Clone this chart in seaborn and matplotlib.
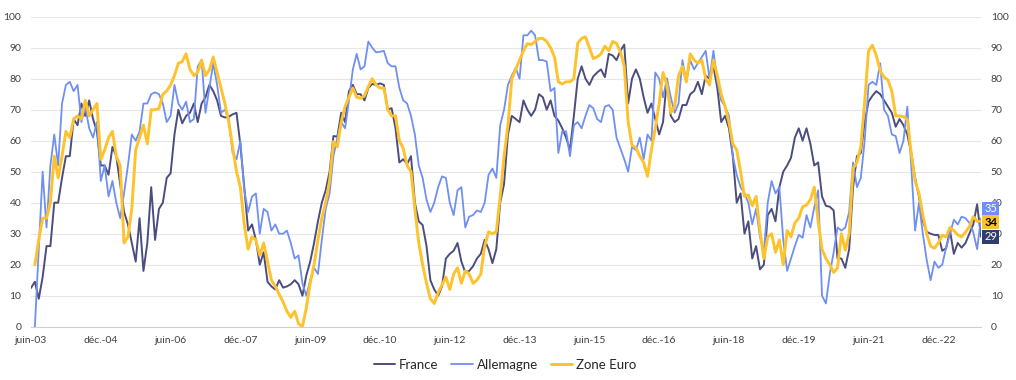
import numpy as np
import pandas as pd
import matplotlib.pyplot as plt
import seaborn as sns

sns.set_style("white")
plt.rcParams['font.family'] = ['Lato', 'DejaVu Sans']

# monthly index, juin-03 -> nov.-23
france = [12.5, 14.5, 9, 16, 26, 26, 40, 40, 48, 55, 55, 67, 65, 72, 68, 73, 67, 63, 52, 52,
          49, 58, 55, 46, 37, 33, 27, 21, 35, 18, 27, 45, 28, 38, 40, 48, 49.5, 62, 70, 65.6,
          68, 69, 72, 66, 72, 74, 78, 76, 73, 68, 67.5, 67.7, 68.5, 69, 58.6, 45, 31, 33, 28, 20,
          24, 14.5, 13, 12, 15, 12.6, 13, 13.7, 15, 13.7, 10, 16.5, 21, 27, 34, 40, 44, 50, 61.5, 61.3,
          69, 66, 76, 78, 75, 75, 73, 77, 78.3, 78, 78.5, 78, 70, 70.5, 64, 53, 54, 52.5, 55, 40,
          34, 32.8, 26, 15, 12, 10, 13, 22, 23.5, 24.5, 27, 21, 17.5, 18, 19.5, 22, 23.5, 28, 25, 20.5,
          25, 40, 46, 62, 68, 67, 66, 73, 70, 68, 70, 75, 74, 70, 73, 68, 66.5, 64, 61, 57,
          68, 80, 84, 80, 78, 80.7, 82, 83, 80.5, 88, 87.5, 86, 89, 91, 72, 80, 83, 80, 74, 69,
          72, 67, 62, 66, 80, 68, 66, 67, 71.5, 71.5, 75, 76, 79, 75, 81, 80, 84, 77, 66, 68,
          64, 55, 40, 43, 30, 34, 22, 26, 18.5, 20, 36, 38, 34, 45, 50, 52, 54.5, 61, 64, 60,
          64, 59, 52, 53, 42, 39, 38.7, 37.5, 22, 22, 19, 25, 45, 55, 56, 66, 72.6, 74.5, 76, 75,
          73, 71, 69, 64.5, 67, 65, 62, 56, 48, 42, 34, 30.6, 30, 29.6, 29.6, 24.5, 25.3, 31, 23.5, 27,
          25.5, 27, 30, 33, 39.5, 29]

allemagne = [np.nan, 0, 25, 50, 32, 52, 62, 52, 72, 78, 79, 76, 78, 66, 71, 64, 61, 66, 47, 52,
             42, 47, 40, 35, 43, 52, 62, 60, 63, 72, 72, 75, 75.6, 75, 72, 66, 68, 78, 72, 70,
             72.6, 66, 67, 84, 86, 69, 77, 85, 78, 69, 70, 67, 56, 54, 60, 44, 37, 42, 43, 30,
             38, 37, 31, 33, 30, 30, 31, 27, 22, 23, 14, 10, 15, 19, 17, 28, 38, 43, 55, 61,
             66, 64, 73, 83, 88, 83, 84, 92, 90, 88.5, 88.7, 89, 85, 84, 84, 77, 73, 72, 68, 62,
             52, 48, 41, 37, 40, 45, 48.5, 48, 40, 36, 44, 45, 32, 35.5, 36, 37.5, 37, 40, 49, 51,
             48, 65, 70, 78, 81, 83.5, 80, 94, 94, 95.5, 94, 86, 86, 85.5, 76, 77, 56, 63, 63, 55,
             65, 66, 64, 68, 71.5, 70.5, 67, 66, 71, 71.5, 70, 61, 57.5, 54, 50, 58, 57, 61, 54, 62,
             60, 82, 80, 74, 80, 74, 69, 72, 86, 79, 86, 83, 85, 87, 89, 80, 89, 79, 73, 71,
             68, 55, 49, 45, 43, 40, 33, 38, 29, 24, 40, 47, 43, 45, 28, 18, 22, 26, 29.6, 28.7,
             36, 32, 38.5, 44, 10, 7.5, 17, 24, 32, 31, 32, 37, 53, 45, 48, 60, 78, 79, 78, 85,
             70, 68, 62, 61.5, 56, 60, 71, 52, 31, 40, 30, 21.5, 15, 21, 19, 20, 25.5, 30, 34.5, 33,
             35.5, 35, 33.5, 30.5, 25, 35]

zone_euro = [np.nan, 20, 28, 35, 35, 40, 55, 48, 55, 63, 61, 67, 68, 67, 73, 68, 70, 72, 54, 57,
             61, 63, 55, 52, 27, 29, 38, 57, 61, 65, 59, 70, 70, 70.4, 75, 76, 78, 81, 85, 85.5,
             88, 83, 81, 82, 86, 81, 82.8, 87, 82, 77, 72, 66, 58, 50, 45, 33, 25, 29, 28, 23,
             27, 21, 15, 13, 10.5, 8, 5, 3, 5, 1, 0, 6, 14, 20, 28, 35, 40, 47, 59.7, 58,
             66, 71, 74, 77, 74, 73.7, 74.5, 77.5, 80, 78, 77, 77, 70, 68, 68, 60, 57.5, 52, 50, 38,
             27, 20, 14, 9, 7.5, 11, 13.5, 16, 12, 17, 19, 14, 18, 17, 14, 15, 17, 26, 30.6, 30,
             30.6, 42, 55, 65, 80, 83, 86, 89, 91.3, 91, 92, 93, 93, 92, 90, 87, 79, 78.3, 79, 79,
             80, 91.5, 93, 93.5, 90, 86.5, 87, 88, 90.5, 89, 92, 91.4, 88.7, 84, 66, 58.5, 57.7, 55, 53, 48.5,
             57, 64, 72, 82, 78, 69, 71, 81, 84, 79, 88, 86, 85, 86, 80, 78, 86, 81, 75, 71,
             66, 59, 57, 50, 42, 42.5, 39, 42, 31, 22, 29, 30, 24, 28, 20, 31, 29, 33.5, 35, 38.7,
             39.2, 41, 45, 34, 25, 22, 20, 17.5, 19, 30, 24.7, 30, 51, 53, 58, 72.6, 89, 90.8, 87.5, 82.5,
             80.5, 79.6, 76, 68, 68, 67.8, 66.8, 56, 47, 43, 36, 30, 26, 25.3, 27, 29.5, 29, 32, 31, 29.6,
             29, 30.5, 32.3, 35.5, 34, 34]

tick_labels = ["juin-03", "déc.-04", "juin-06", "déc.-07", "juin-09", "déc.-10", "juin-12",
               "déc.-13", "juin-15", "déc.-16", "juin-18", "déc.-19", "juin-21", "déc.-22"]

SERIES = ["France", "Allemagne", "Zone Euro"]
COLORS = {"France": "#4b4d7e", "Allemagne": "#6f8ff2", "Zone Euro": "#fdc22c"}
WIDTHS = {"France": 1.4, "Allemagne": 1.3, "Zone Euro": 2.1}

df = pd.DataFrame({"France": france, "Allemagne": allemagne, "Zone Euro": zone_euro})
df["mois"] = np.arange(len(df))
long = df.melt(id_vars="mois", var_name="serie", value_name="valeur")

fig = plt.figure(figsize=(10.16, 3.8), dpi=100)
ax = fig.add_axes([31 / 1016, 53.3 / 380, 950 / 1016, 310 / 380])

for name in SERIES:
    sub = long[long["serie"] == name]
    sns.lineplot(data=sub, x="mois", y="valeur", ax=ax, color=COLORS[name],
                 linewidth=WIDTHS[name], label=name, legend=False)

ax.set_xlim(0, len(df) - 1)
ax.set_ylim(0, 100)
ax.set_yticks(range(0, 101, 10))
ax.set_xticks(range(0, 18 * len(tick_labels), 18))
ax.set_xticklabels(tick_labels)
ax.set_xlabel("")
ax.set_ylabel("")
ax.grid(axis="y", color="#e6e6e6", linewidth=0.8)
ax.set_axisbelow(True)
for s in ["top", "left", "right"]:
    ax.spines[s].set_visible(False)
ax.spines["bottom"].set_color("#d0d0d0")
ax.tick_params(axis="x", length=4, color="#d0d0d0", labelsize=7.5, pad=3, labelcolor="#404040")
ax.tick_params(axis="y", length=0, labelsize=7.5, labelright=True, pad=7, labelcolor="#404040")

# end-of-series value boxes
last = len(df) - 1
end_boxes = [("Allemagne", allemagne[-1], 38, "#6f8ff2", "white", "normal"),
             ("Zone Euro", zone_euro[-1], 33.7, "#fdc22c", "black", "bold"),
             ("France", france[-1], 29, "#2f3c6e", "white", "normal")]
for name, val, ypos, bg, fg, w in end_boxes:
    ax.text(last + 0.8, ypos, f"{val:.0f}", ha="left", va="center", fontsize=8, color=fg,
            fontweight=w, clip_on=False, zorder=5,
            bbox=dict(boxstyle="square,pad=0.15", fc=bg, ec="none"))

handles, labels = ax.get_legend_handles_labels()
fig.legend(handles, labels, loc="center", bbox_to_anchor=(0.497, 0.04), ncol=3, frameon=False,
           fontsize=9.5, handlelength=1.6, handletextpad=0.3, columnspacing=1.0)

plt.savefig("out.png", dpi=100)
